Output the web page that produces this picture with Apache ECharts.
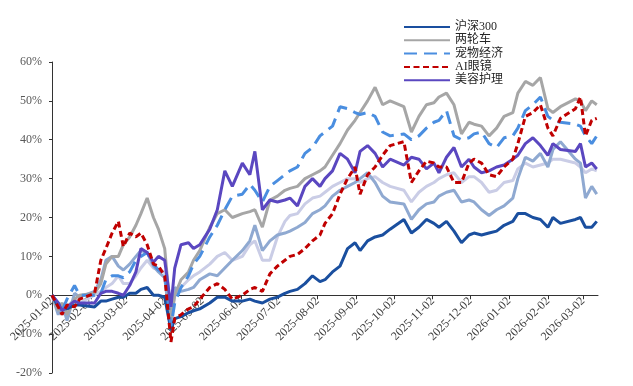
<!DOCTYPE html>
<html>
<head>
<meta charset="utf-8">
<script src="https://cdn.jsdelivr.net/npm/echarts@6/dist/echarts.min.js"></script>
<style>html,body{margin:0;padding:0;background:#fff}#c{width:633px;height:386px}</style>
</head>
<body>
<div id="c"></div>
<script>
// Sample dates (calendar) and index returns in %
const sampleDates = ['2025-01-02','2025-01-07','2025-01-10','2025-01-14','2025-01-20','2025-01-24',
 '2025-02-05','2025-02-10','2025-02-14','2025-02-19','2025-02-24','2025-02-28',
 '2025-03-05','2025-03-10','2025-03-14','2025-03-19','2025-03-24','2025-03-28',
 '2025-04-02','2025-04-07','2025-04-10','2025-04-15','2025-04-21','2025-04-25','2025-04-30',
 '2025-05-08','2025-05-14','2025-05-20','2025-05-26',
 '2025-06-03','2025-06-09','2025-06-13','2025-06-19','2025-06-25',
 '2025-07-01','2025-07-07','2025-07-11','2025-07-17','2025-07-23','2025-07-29',
 '2025-08-04','2025-08-08','2025-08-14','2025-08-20','2025-08-26',
 '2025-09-01','2025-09-05','2025-09-11','2025-09-17','2025-09-23','2025-09-29',
 '2025-10-10','2025-10-16','2025-10-22','2025-10-28',
 '2025-11-03','2025-11-07','2025-11-13','2025-11-19','2025-11-25',
 '2025-12-01','2025-12-05','2025-12-11','2025-12-17','2025-12-23','2025-12-29',
 '2026-01-05','2026-01-09','2026-01-15','2026-01-21','2026-01-27',
 '2026-02-02','2026-02-06','2026-02-12','2026-02-24','2026-02-28',
 '2026-03-04','2026-03-09','2026-03-13'];

const hs300 = [0,-3,-3.5,-3.5,-2.5,-2.5,
 -3,-1.5,-1.5,-1,-0.5,-0.5,
 0.5,0.5,1.5,2,0,0,
 -0.5,-9,-6,-5.5,-4.5,-4,-3.5,
 -2,-0.5,-0.5,-1.5,
 -1.5,-1,-1.5,-2,-1,
 -0.5,0.5,1,1.5,3,5,
 3.5,4,6,7.5,12,
 13.5,11.5,14,15,15.5,17,
 19.5,16,17.5,19.5,
 18.5,17.5,19,16.5,13.5,
 15.5,16,15.5,16,16.5,18,
 19,21,21,20,19.5,
 17.5,20,18.5,19.5,20,
 17.5,17.5,19];

const liangLunChe = [0,-4,-2,-5,-1,0,
 0.5,3,8,10,10,13,
 15,18,21,25,20,17,
 12,-6,0,4,6,9,11.5,
 17.5,21,22,20,
 21,21.5,22,17.5,24.5,
 25.5,27,27.5,28,30,31,
 32,33,36,39,42.5,
 45,47,50,53.5,49,50,
 48.5,42,46,49,
 49.5,51,52,49,41.5,
 44.5,44,43.5,41,43,46,
 47,52,55,54,56,
 48,47,48.5,50.5,50,
 47.5,50,49];

const chongWu = [0,-2,-4,-1,2.5,0,
 0,0.5,4,5,5,4.5,
 6,9,10,11,8,6.5,
 5.5,-8,-2,2,5,8,10,
 15,18,22,25.5,
 26,28.5,27,24,28,
 29.5,31,32,33,36.5,38,
 41,42,43.5,48.5,48,
 47,46.5,47,46,42,41,
 41.5,40,41,43,
 44.5,45,47.5,41,40,
 40.5,41.5,42,39,38,40.5,
 41,43,47.5,49,51,
 46,45,44.5,44,43.5,
 41,39,41];

const aiGlasses = [0,-3,-5,-2.5,-3,-1,
 0.5,9,12,16,19,12.5,
 16,15,16,13,8,7.5,
 5,-12,-6,-5,-3.5,-3,-1,
 2,3,1.5,-1,
 0,1.5,2,1,5.5,
 7.5,9,10,10.5,12,14,
 15.5,18.5,21,26,30,
 33,26,31,33,36,38.5,
 39.5,29,32,34.5,
 34,33,33,29,29,
 34,35,34,31,30.5,33,
 35,39,46,47,49,
 43,41,45.5,48,51,
 41,45,45.5];

const meiRong = [0,-2,-4,-3,-1.5,-2,
 -2,0.5,1,1,0.5,0,
 2.5,6,12,11,8.5,10,
 9,-3,7,13,13.5,12,13,
 17,22,32,28,
 34,31,37,22,24.5,
 24,24.5,25,23,28,30,
 28,30,32,36.5,35,
 31.5,37,38.5,36.5,33,35,
 33.5,35.5,35,32.5,
 34,31.5,35.5,38,33,
 35,33,31.5,32,33,33.5,
 35,36,39,40.5,38.5,
 36,39,37.5,37,39,
 33,34,32.5];

const lavender = [0,-3,-5,-3,-1,-2,
 0,1,2,3,5,3,
 3,5,7,9,7,6.5,
 6,-8,0,2,4,5,6,
 8,10,11,9,
 10,13,14,9,9,
 15,19,20.5,21,23.5,25,
 25.5,26.5,28,29,30,
 30,29,30,30.5,29,28,
 27,24,26.5,28,
 29,30,31,31.5,29,
 30.5,30.5,29,26.5,27,29,
 29.5,32.5,34,33,33.5,
 34,35,35,34,33,
 31.5,32.5,32];

const steelBlue = [0,-5,-2,-6.5,0.5,-0.5,
 1,4,9,10,7.5,6.5,
 8,10,11.5,11,7.5,6,
 4.5,-9,2,1,1.5,2,4,
 5.5,5,7,9,
 11.5,14,18,11.5,14,
 15.5,16,16.5,17.5,18.7,21,
 22,23,25.5,27,28,
 29,30,31.5,29,25.5,24,
 23.5,19.5,22,23.5,
 24,25.5,26.5,27,24,
 24.5,24,22,20.5,22,23,
 25,30,35.5,34.5,36.5,
 33,37.5,39.5,35,34,
 25,28,26];

const yTicks = {min: -20, max: 60, step: 10};

// calendar-day category axis
const days = [];
(function(){
  let d = new Date(Date.UTC(2025,0,2));
  const end = Date.UTC(2026,2,14);
  while (d.getTime() <= end) {
    days.push(d.toISOString().slice(0,10));
    d = new Date(d.getTime() + 86400000);
  }
})();
const dayIndex = {};
days.forEach((d,i)=>dayIndex[d]=i);
const toData = vals => sampleDates.map((d,i)=>[dayIndex[d], vals[i]/100]);
const isTick = (i, v) => v.slice(8) === '02';

const serif = '"Times New Roman","Liberation Serif","Noto Sans CJK SC",serif';

function line(name, vals, color, type, z) {
  return {
    name: name, type: 'line', data: toData(vals), showSymbol: false, symbol: 'none',
    z: z, lineStyle: {color: color, width: 3, type: type || 'solid', cap: 'butt'},
    itemStyle: {color: color}, animation: false
  };
}

const gridTop = 62, gridBottom = 13, H = 386;
const plotH = H - gridTop - gridBottom;
const zeroOffset = -plotH * (0 - yTicks.min) / (yTicks.max - yTicks.min);

const chart = echarts.init(document.getElementById('c'), null, {renderer: 'canvas'});
chart.setOption({
  animation: false,
  backgroundColor: '#fff',
  grid: {left: 52, right: 35, top: gridTop, bottom: gridBottom, containLabel: false, outerBoundsMode: 'none'},
  legend: {
    orient: 'vertical', left: 398, top: 16,
    data: ['沪深300','两轮车','宠物经济','AI眼镜','美容护理'],
    itemWidth: 46, itemHeight: 10, itemGap: 1.3,
    itemStyle: {opacity: 0},
    textStyle: {fontFamily: serif, fontSize: 12, color: '#262626', lineHeight: 10}
  },
  xAxis: {
    type: 'category', data: days, boundaryGap: false,
    offset: zeroOffset,
    axisLine: {onZero: false, lineStyle: {color: '#333', width: 1}},
    axisTick: {show: true, interval: isTick, length: 4, lineStyle: {color: '#333'}},
    axisLabel: {interval: isTick, rotate: 45, fontSize: 12, color: '#404040', fontFamily: serif, margin: 4},
    splitLine: {show: false}
  },
  yAxis: {
    type: 'value', min: yTicks.min/100, max: yTicks.max/100, interval: yTicks.step/100,
    axisLine: {show: true, lineStyle: {color: '#333', width: 1}},
    axisTick: {show: true, length: 3, lineStyle: {color: '#333'}},
    axisLabel: {formatter: v => Math.round(v*100) + '%', fontSize: 12, color: '#595959', fontFamily: serif, margin: 10},
    splitLine: {show: false}
  },
  series: [
    line('', lavender, '#CACDE6', 'solid', 1),
    line(' ', steelBlue, '#8FA9D1', 'solid', 2),
    line('两轮车', liangLunChe, '#A6A6A6', 'solid', 3),
    line('沪深300', hs300, '#1A4F9F', 'solid', 4),
    line('宠物经济', chongWu, '#4A8EE0', [13,7], 5),
    line('美容护理', meiRong, '#5A47C0', 'solid', 6),
    line('AI眼镜', aiGlasses, '#C00000', [6,3.5], 7)
  ]
});
</script>
</body>
</html>
